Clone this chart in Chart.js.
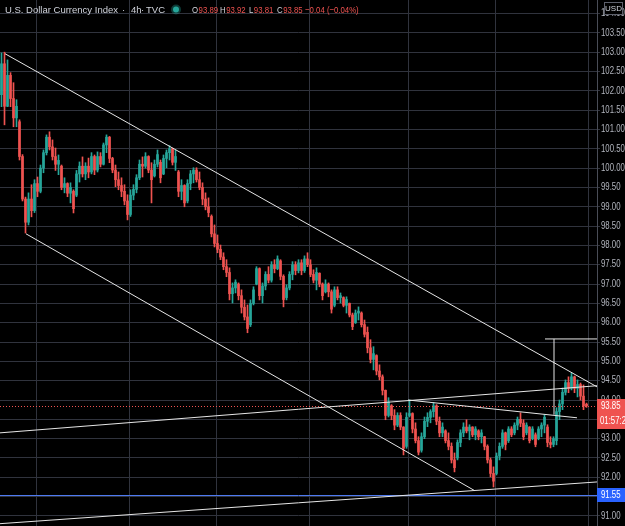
<!DOCTYPE html>
<html>
<head>
<meta charset="utf-8">
<script src="https://cdn.jsdelivr.net/npm/chart.js@4.4.1/dist/chart.umd.min.js"></script>
<style>
html, body { margin: 0; padding: 0; background: #000; }
#wrap { width: 625px; height: 526px; position: relative; }
</style>
</head>
<body>
<div id="wrap"><canvas id="chart"></canvas></div>
<script>
// DXY 4h, each bar here stands for a few 4h sessions
const opens = [
  101.9, 102.7, 101.6, 102.4, 101.8, 101.3, 101.2, 100.3, 99.2, 98.6,
  99.2, 98.9, 99.6, 99.4, 100.0, 100.4, 100.8, 100.55, 100.3, 100.1,
  100.05, 99.5, 99.6, 99.35, 99.4, 99.3, 99.85, 100.05, 99.85, 100.05,
  99.9, 100.3, 99.95, 100.3, 100.1, 100.6, 100.8, 100.25, 99.95, 99.7,
  99.55, 99.4, 99.15, 98.8, 99.3, 99.45, 99.75, 100.1, 100.05, 100.3,
  99.95, 99.8, 100.1, 100.15, 99.85, 100.25, 100.4, 100.5, 100.15, 99.9,
  99.4, 99.55, 99.15, 99.6, 99.85, 99.95, 99.7, 99.5, 99.2, 99.0,
  98.75, 98.3, 98.05, 97.9, 97.7, 97.45, 97.3, 96.75, 96.9, 97.0,
  96.7, 96.4, 96.15, 95.95, 96.5, 97.0, 97.4, 96.7, 96.95, 97.25,
  97.1, 97.5, 97.4, 97.6, 97.2, 96.65, 96.9, 97.25, 97.5, 97.35,
  97.55, 97.35, 97.65, 97.5, 97.25, 97.1, 97.28, 97.0, 96.8, 97.0,
  96.8, 96.45, 96.85, 96.65, 96.65, 96.45, 96.5, 96.2, 96.0, 96.25,
  96.25, 95.95, 95.75, 95.35, 95.05, 95.15, 94.75, 94.6, 94.25, 93.6,
  93.85, 93.6, 93.35, 93.6, 93.3, 92.8, 93.6, 93.65, 93.25, 92.95,
  92.7, 93.05, 93.45, 93.55, 93.7, 93.85, 93.45, 93.15, 93.2, 92.95,
  92.8, 92.45, 92.5, 92.9, 93.15, 93.3, 93.2, 93.3, 93.1, 93.2,
  93.05, 93.05, 92.8, 92.45, 92.1, 92.1, 92.55, 92.8, 93.15, 92.95,
  93.25, 93.15, 93.35, 93.5, 93.4, 93.15, 93.3, 93.0, 93.1, 93.0,
  93.25, 93.35, 93.3, 92.9, 92.85, 92.95, 93.7, 93.9, 94.2, 94.45,
  94.3, 94.6, 94.3, 94.4, 94.1, 93.89
];
const highs = [
  102.98, 103.0, 102.8, 102.47, 102.21, 101.77, 101.25, 100.35, 99.25, 99.36,
  99.57, 99.7, 99.77, 100.08, 100.47, 100.86, 100.94, 100.73, 100.52, 100.34,
  100.08, 99.75, 99.62, 99.62, 99.44, 99.94, 100.16, 100.29, 100.14, 100.26,
  100.4, 100.34, 100.42, 100.4, 100.65, 100.86, 100.82, 100.28, 100.08, 99.9,
  99.75, 99.57, 99.31, 99.44, 99.57, 99.83, 100.21, 100.29, 100.4, 100.32,
  100.14, 100.21, 100.47, 100.21, 100.34, 100.47, 100.58, 100.52, 100.47, 99.94,
  99.7, 99.57, 99.7, 99.94, 100.01, 100.01, 99.9, 99.62, 99.36, 99.23,
  98.79, 98.53, 98.27, 98.01, 97.81, 97.63, 97.42, 97.03, 97.11, 97.03,
  96.85, 96.59, 96.46, 96.59, 96.93, 97.45, 97.42, 97.03, 97.32, 97.45,
  97.58, 97.63, 97.73, 97.63, 97.24, 96.98, 97.32, 97.58, 97.58, 97.63,
  97.63, 97.73, 97.81, 97.63, 97.37, 97.42, 97.29, 97.03, 97.11, 97.03,
  96.85, 96.93, 96.93, 96.77, 96.67, 96.67, 96.51, 96.25, 96.33, 96.41,
  96.28, 96.07, 95.89, 95.56, 95.38, 95.17, 94.91, 94.65, 94.26, 94.06,
  93.88, 93.75, 93.67, 93.67, 93.31, 93.67, 94.0, 93.67, 93.41, 93.05,
  93.15, 93.56, 93.67, 93.75, 93.93, 93.88, 93.56, 93.41, 93.23, 93.15,
  92.89, 92.63, 92.97, 93.23, 93.41, 93.49, 93.36, 93.31, 93.31, 93.23,
  93.23, 93.06, 92.84, 92.5, 92.27, 92.63, 92.89, 93.23, 93.17, 93.31,
  93.31, 93.41, 93.56, 93.67, 93.49, 93.41, 93.31, 93.31, 93.15, 93.31,
  93.41, 93.62, 93.36, 93.05, 93.05, 93.8, 94.0, 94.31, 94.52, 94.6,
  94.7, 94.62, 94.52, 94.44, 94.39, 93.92
];
const lows = [
  101.59, 101.12, 101.59, 101.59, 101.07, 101.07, 100.21, 99.15, 98.32, 98.53,
  98.74, 98.85, 99.26, 99.36, 99.88, 100.34, 100.47, 100.21, 99.94, 99.83,
  99.44, 99.36, 99.26, 99.1, 98.84, 99.26, 99.64, 99.77, 99.7, 99.75,
  99.85, 99.83, 99.9, 100.03, 100.08, 100.4, 100.14, 99.88, 99.52, 99.44,
  99.26, 99.05, 98.66, 98.75, 99.18, 99.36, 99.7, 99.77, 100.0, 99.88,
  99.1, 99.77, 100.03, 99.62, 99.83, 100.01, 100.21, 100.08, 99.94, 99.26,
  99.18, 99.0, 99.1, 99.44, 99.62, 99.64, 99.44, 99.05, 98.92, 98.74,
  98.22, 97.96, 97.81, 97.63, 97.37, 97.19, 96.59, 96.51, 96.77, 96.59,
  96.25, 96.07, 95.74, 95.9, 96.46, 96.98, 96.59, 96.51, 96.85, 97.03,
  97.05, 97.29, 97.37, 97.11, 96.41, 96.59, 96.85, 97.11, 97.24, 97.29,
  97.24, 97.3, 97.45, 97.19, 97.03, 96.85, 96.93, 96.59, 96.77, 96.67,
  96.25, 96.41, 96.59, 96.51, 96.41, 96.25, 96.15, 95.82, 95.98, 96.07,
  95.89, 95.63, 95.22, 94.96, 94.78, 94.65, 94.52, 94.13, 93.49, 93.56,
  93.49, 93.23, 93.31, 93.23, 92.58, 92.75, 93.56, 93.15, 92.89, 92.58,
  92.65, 93.0, 93.31, 93.41, 93.56, 93.36, 93.05, 93.05, 92.89, 92.71,
  92.37, 92.14, 92.45, 92.79, 93.05, 93.15, 92.97, 93.05, 92.97, 92.97,
  92.89, 92.71, 92.37, 92.01, 91.75, 92.06, 92.45, 92.75, 92.71, 92.9,
  93.05, 93.1, 93.23, 93.31, 92.97, 93.1, 92.89, 92.97, 92.79, 92.97,
  93.05, 93.15, 92.79, 92.76, 92.79, 92.84, 93.49, 93.75, 94.13, 94.19,
  94.26, 94.19, 94.08, 94.0, 93.75, 93.81
];
const closes = [
  102.7, 101.6, 102.4, 101.8, 101.3, 101.6, 100.3, 99.2, 98.6, 99.2,
  98.9, 99.6, 99.4, 100.0, 100.4, 100.8, 100.55, 100.3, 100.1, 100.2,
  99.5, 99.6, 99.35, 99.5, 98.95, 99.85, 100.05, 99.85, 100.05, 99.9,
  100.3, 99.95, 100.3, 100.1, 100.6, 100.8, 100.25, 99.95, 99.7, 99.55,
  99.4, 99.15, 98.8, 99.3, 99.45, 99.75, 100.1, 100.05, 100.3, 99.95,
  99.7, 100.1, 100.35, 99.75, 100.25, 100.4, 100.5, 100.15, 100.3, 99.4,
  99.55, 99.1, 99.6, 99.85, 99.95, 99.7, 99.5, 99.2, 99.0, 98.85,
  98.3, 98.05, 97.9, 97.7, 97.45, 97.3, 96.75, 96.9, 97.05, 96.7,
  96.4, 96.15, 95.85, 96.5, 96.85, 97.4, 96.7, 96.95, 97.25, 97.1,
  97.5, 97.4, 97.65, 97.2, 96.6, 96.9, 97.25, 97.5, 97.35, 97.55,
  97.35, 97.65, 97.5, 97.25, 97.1, 97.3, 97.0, 96.7, 97.0, 96.8,
  96.35, 96.85, 96.65, 96.7, 96.45, 96.6, 96.2, 95.9, 96.25, 96.3,
  95.95, 95.7, 95.35, 95.05, 95.2, 94.75, 94.6, 94.25, 93.6, 93.95,
  93.6, 93.35, 93.6, 93.3, 92.75, 93.55, 93.65, 93.25, 92.95, 92.65,
  93.05, 93.45, 93.55, 93.7, 93.85, 93.45, 93.15, 93.3, 92.95, 92.8,
  92.45, 92.25, 92.9, 93.15, 93.3, 93.2, 93.3, 93.1, 93.25, 93.05,
  93.15, 92.8, 92.45, 92.1, 91.9, 92.55, 92.8, 93.15, 92.85, 93.25,
  93.1, 93.35, 93.5, 93.4, 93.05, 93.35, 92.95, 93.25, 92.85, 93.25,
  93.35, 93.55, 92.9, 92.85, 93.0, 93.7, 93.9, 94.2, 94.45, 94.3,
  94.6, 94.3, 94.4, 94.1, 93.85, 93.85
];

const slots = 199;                                  // bars + empty room before the axis
const monthStarts = [12, 43, 72, 103, 136, 165, 196]; // bar index where a new month begins
const priceMin = 90.74;
const priceMax = 104.35;
const alertPrice = 91.55;
const lastChange = "\u22120.04 (\u22120.04%)";
const countdown = "01:57:27";

// drawings: [fromIndex, fromPrice, toIndex, toPrice]
const trendLines = [
  [1.17, 102.96, 198.5, 94.34],
  [8.17, 98.30, 157.83, 91.65],
  [-0.5, 90.80, 198.5, 91.88],
  [-0.5, 93.15, 198.5, 94.37],
  [135.5, 94.00, 191.83, 93.54],
  [184.17, 95.58, 184.17, 93.62],
  [181.17, 95.58, 198.5, 95.58]
];

const upColor = "#26a69a";
const downColor = "#ef5350";
const gridColor = "#30333d";
const textColor = "#b2b5be";
const font = '"Liberation Sans", Arial, sans-serif';

const labels = Array.from({ length: slots }, (_, i) => String(i));
const candleColors = closes.map((c, i) => c >= opens[i] ? upColor : downColor);
const wicks = lows.map((l, i) => [l, highs[i]]);
const bodies = opens.map((o, i) => [Math.min(o, closes[i]), Math.max(o, closes[i])]);

// TradingView's axis font is narrow; squeeze Liberation Sans to match
const narrowText = (ctx, text, px, py, sx) => {
  ctx.save();
  ctx.translate(px, py);
  ctx.scale(sx, 1);
  ctx.fillText(text, 0, 0);
  ctx.restore();
  return ctx.measureText(text).width * sx;
};

const overlay = {
  id: "overlay",
  afterDatasetsDraw(chart) {
    const { ctx, chartArea: a, scales: { x, y } } = chart;
    ctx.save();
    ctx.beginPath();
    ctx.rect(a.left, a.top, a.right - a.left, a.bottom - a.top);
    ctx.clip();

    const yAlert = Math.round(y.getPixelForValue(alertPrice)) + 0.5;
    ctx.strokeStyle = "#4d79f0";
    ctx.lineWidth = 1;
    ctx.beginPath();
    ctx.moveTo(a.left, yAlert);
    ctx.lineTo(a.right, yAlert);
    ctx.stroke();

    const yLast = Math.round(y.getPixelForValue(closes[closes.length - 1])) + 0.5;
    ctx.strokeStyle = downColor;
    ctx.setLineDash([1, 2]);
    ctx.beginPath();
    ctx.moveTo(a.left, yLast);
    ctx.lineTo(a.right, yLast);
    ctx.stroke();
    ctx.setLineDash([]);

    ctx.strokeStyle = "#e6e6e6";
    trendLines.forEach(([i0, p0, i1, p1]) => {
      ctx.beginPath();
      ctx.moveTo(x.getPixelForValue(i0), y.getPixelForValue(p0));
      ctx.lineTo(x.getPixelForValue(i1), y.getPixelForValue(p1));
      ctx.stroke();
    });
    ctx.restore();
  },
  afterDraw(chart) {
    const { ctx, chartArea: a, scales: { y } } = chart;
    const W = chart.width;
    ctx.save();
    ctx.textBaseline = "middle";

    // price axis labels
    ctx.font = "10px " + font;
    ctx.fillStyle = textColor;
    y.ticks.forEach((t) => {
      narrowText(ctx, t.value.toFixed(2), a.right + 4, y.getPixelForValue(t.value), 0.78);
    });

    // header
    ctx.font = "9.5px " + font;
    ctx.fillStyle = "#d1d4dc";
    ctx.fillText("U.S. Dollar Currency Index", 5, 10);
    ctx.fillText("\u00b7", 122, 10);
    ctx.fillText("4h", 131, 10);
    ctx.fillText("\u00b7", 141, 10);
    ctx.fillText("TVC", 146, 10);
    ctx.fillStyle = "rgba(38,166,154,0.35)";
    ctx.beginPath(); ctx.arc(176, 9.5, 5, 0, Math.PI * 2); ctx.fill();
    ctx.fillStyle = upColor;
    ctx.beginPath(); ctx.arc(176, 9.5, 3, 0, Math.PI * 2); ctx.fill();
    const last = closes.length - 1;
    const ohlc = [["O", opens[last], 192], ["H", highs[last], 220], ["L", lows[last], 249], ["C", closes[last], 277]];
    ohlc.forEach(([k, v, px]) => {
      ctx.fillStyle = "#d1d4dc";
      const w = narrowText(ctx, k, px, 10, 0.82);
      ctx.fillStyle = downColor;
      narrowText(ctx, v.toFixed(2), px + w + 0.5, 10, 0.82);
    });
    ctx.fillStyle = downColor;
    narrowText(ctx, lastChange, 305, 10, 0.82);

    // axis tags
    ctx.font = "10px " + font;
    const tag = (value, bg, text, extra) => {
      const py = Math.round(y.getPixelForValue(value));
      ctx.fillStyle = bg;
      ctx.fillRect(a.right, py - 7, W - a.right, extra ? 30 : 14);
      ctx.fillStyle = "#ffffff";
      narrowText(ctx, text, a.right + 4, py, 0.78);
      if (extra) narrowText(ctx, extra, a.right + 3, py + 15, 0.78);
    };
    tag(closes[last], downColor, closes[last].toFixed(2), countdown);
    tag(alertPrice, "#2962ff", alertPrice.toFixed(2));

    // currency box
    ctx.fillStyle = "#000";
    ctx.fillRect(W - 21, 2, 19, 13);
    ctx.strokeStyle = "#5d606b";
    ctx.strokeRect(W - 20.5, 2.5, 18, 12);
    ctx.fillStyle = "#d1d4dc";
    ctx.font = "8px " + font;
    ctx.textAlign = "center";
    ctx.fillText("USD", W - 11.5, 9);
    ctx.restore();
  }
};

const ctx = document.getElementById("chart").getContext("2d");
const chart = new Chart(ctx, {
  type: "bar",
  data: {
    labels: labels,
    datasets: [
      { data: wicks, backgroundColor: candleColors, barThickness: 1, grouped: false, order: 2 },
      { data: bodies, backgroundColor: candleColors, barThickness: 2, grouped: false, order: 1 }
    ]
  },
  options: {
    responsive: true,
    maintainAspectRatio: false,
    animation: false,
    devicePixelRatio: 1,
    layout: { padding: 0 },
    plugins: {
      legend: { display: false },
      tooltip: { enabled: false }
    },
    scales: {
      x: {
        offset: true,
        ticks: { display: false, autoSkip: false },
        grid: {
          offset: true,
          drawTicks: false,
          color: (c) => monthStarts.includes(c.index) ? gridColor : "transparent"
        },
        border: { display: false }
      },
      y: {
        position: "right",
        min: priceMin,
        max: priceMax,
        ticks: {
          stepSize: 0.5,
          includeBounds: false,
          maxTicksLimit: 40,
          autoSkip: false,
          padding: 1,
          color: "transparent",
          font: { family: font, size: 10 },
          callback: (v) => v.toFixed(2)
        },
        grid: { color: gridColor, tickLength: 3 },
        border: { color: "#4a4d57" },
        afterFit: (s) => { s.width = 28; s.paddingTop = 0; s.paddingBottom = 0; }
      }
    }
  },
  plugins: [overlay]
});
</script>
</body>
</html>
